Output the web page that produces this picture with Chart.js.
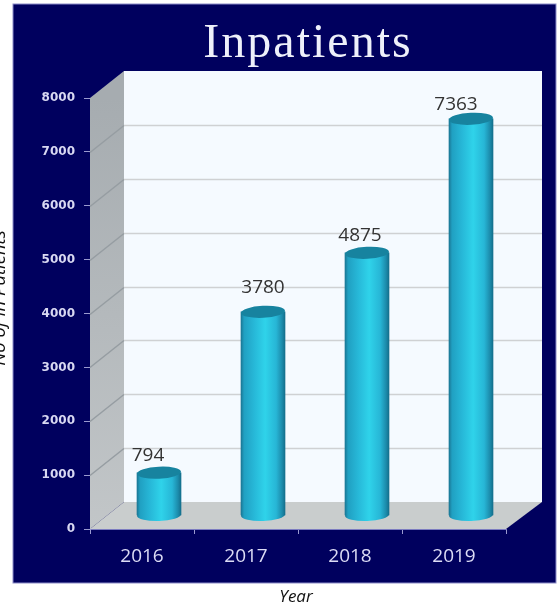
<!DOCTYPE html>
<html>
<head>
<meta charset="utf-8">
<title>Inpatients</title>
<script src="https://cdn.jsdelivr.net/npm/chart.js@4"></script>
<style>
    html, body { margin: 0; padding: 0; background: #fff; }
    canvas { display: block; }
</style>
</head>
<body>
<canvas id="inpatientsChart" width="558" height="606"></canvas>
<script>
// Chart data
const years = ['2016', '2017', '2018', '2019'];
const inpatients = [794, 3780, 4875, 7363];
const yTicks = [0, 1000, 2000, 3000, 4000, 5000, 6000, 7000, 8000];

// How the fake 3D box is skewed
const depthX = 34;
const depthY = 27;
const barWidth = 44;
// value labels don't sit centred over the bars in the original
const labelShift = [-11, 0, -7, -15];
const labelRise = [17, 24, 17, 14];

const barGradient = (chart, i) => {
    const x = chart.scales.x.getPixelForValue(i);
    // the options get resolved once before the scales have any size
    if (!Number.isFinite(x)) return '#27bcdc';
    const g = chart.ctx.createLinearGradient(x - barWidth / 2, 0, x + barWidth / 2, 0);
    g.addColorStop(0, '#1a7795');
    g.addColorStop(0.07, '#20a0c2');
    g.addColorStop(0.3, '#27b8d8');
    g.addColorStop(0.55, '#2fd3ea');
    g.addColorStop(0.8, '#27b6d6');
    g.addColorStop(0.93, '#1c8cac');
    g.addColorStop(1, '#146f8c');
    return g;
};

const box3d = {
    id: 'box3d',
    beforeDraw(chart) {
        const { ctx } = chart;
        ctx.save();
        ctx.fillStyle = '#fff';
        ctx.fillRect(0, 0, 558, 606);
        ctx.fillStyle = '#00005e';
        ctx.strokeStyle = '#8c8cc8';
        ctx.lineWidth = 1;
        ctx.fillRect(13, 4, 543, 579);
        ctx.strokeRect(13, 4, 543, 579);

        ctx.fillStyle = '#eef0fa';
        ctx.font = '48px "Liberation Serif"';
        ctx.letterSpacing = '2px';
        ctx.textAlign = 'center';
        ctx.textBaseline = 'alphabetic';
        ctx.fillText('Inpatients', 308, 57);
        ctx.letterSpacing = '0px';

        ctx.textBaseline = 'middle';
        ctx.fillStyle = '#111';
        ctx.font = 'italic 17px "Open Sans"';
        ctx.fillText('Year', 296, 597);
        ctx.font = 'italic 18.5px "Open Sans"';
        ctx.translate(0, 298);
        ctx.rotate(-Math.PI / 2);
        ctx.fillText('No of In Patients', 0, 0);
        ctx.restore();
    },
    beforeDatasetsDraw(chart) {
        const { ctx, chartArea: a, scales: { y } } = chart;
        ctx.save();
        // back wall
        ctx.fillStyle = '#f5faff';
        ctx.fillRect(a.left + depthX, a.top - depthY, a.width + 2, a.height);
        // side wall
        const side = ctx.createLinearGradient(0, a.top, 0, a.bottom);
        side.addColorStop(0, '#a6acb0');
        side.addColorStop(1, '#c2c6c8');
        ctx.fillStyle = side;
        ctx.beginPath();
        ctx.moveTo(a.left, a.top);
        ctx.lineTo(a.left + depthX, a.top - depthY);
        ctx.lineTo(a.left + depthX, a.bottom - depthY);
        ctx.lineTo(a.left, a.bottom);
        ctx.closePath();
        ctx.fill();
        // floor
        ctx.fillStyle = '#c9cdcd';
        ctx.beginPath();
        ctx.moveTo(a.left, a.bottom);
        ctx.lineTo(a.left + depthX, a.bottom - depthY);
        ctx.lineTo(a.right + depthX + 2, a.bottom - depthY);
        ctx.lineTo(a.right, a.bottom);
        ctx.closePath();
        ctx.fill();
        // grid lines, along the side wall and across the back
        ctx.lineWidth = 1.5;
        yTicks.slice(1, -1).forEach(v => {
            const py = Math.round(y.getPixelForValue(v)) + 0.5;
            ctx.strokeStyle = '#969da2';
            ctx.beginPath();
            ctx.moveTo(a.left, py);
            ctx.lineTo(a.left + depthX, py - depthY);
            ctx.stroke();
            ctx.strokeStyle = '#cfd1d3';
            ctx.beginPath();
            ctx.moveTo(a.left + depthX, py - depthY);
            ctx.lineTo(a.right + depthX + 2, py - depthY);
            ctx.stroke();
        });
        ctx.restore();
    },
    beforeDatasetDraw(chart, args) {
        const { ctx } = chart;
        ctx.save();
        ctx.translate(depthX / 2, -depthY / 2);
        // round bottoms
        args.meta.data.forEach((bar, i) => {
            ctx.fillStyle = barGradient(chart, i);
            ctx.beginPath();
            ctx.ellipse(bar.x, bar.base, barWidth / 2, 6, -0.03, 0, Math.PI * 2);
            ctx.fill();
        });
    },
    afterDatasetDraw(chart, args) {
        const { ctx } = chart;
        // round tops
        args.meta.data.forEach(bar => {
            ctx.fillStyle = '#17839f';
            ctx.beginPath();
            ctx.ellipse(bar.x, bar.y, barWidth / 2, 6, -0.05, 0, Math.PI * 2);
            ctx.fill();
        });
        ctx.fillStyle = '#333';
        ctx.font = '19px "Open Sans"';
        ctx.textAlign = 'center';
        ctx.textBaseline = 'middle';
        args.meta.data.forEach((bar, i) => {
            ctx.fillText(String(inpatients[i]), bar.x + labelShift[i], bar.y - labelRise[i]);
        });
        ctx.restore();
    }
};

const inpatientsChart = new Chart(document.getElementById('inpatientsChart'), {
    type: 'bar',
    data: {
        labels: years,
        datasets: [{
            label: 'Inpatients',
            data: inpatients,
            barThickness: barWidth,
            backgroundColor: c => barGradient(c.chart, c.dataIndex),
            clip: false
        }]
    },
    plugins: [box3d],
    options: {
        responsive: false,
        animation: false,
        layout: { padding: { left: 0, right: 52, top: 98, bottom: 0 } },
        plugins: {
            legend: { display: false },
            tooltip: { enabled: false }
        },
        scales: {
            x: {
                afterFit: s => { s.height = 77; },
                border: { color: '#7c7cc0' },
                grid: { drawOnChartArea: false, color: '#9a9ad0', tickLength: 5 },
                ticks: { color: '#dcdcf5', padding: 11, font: { family: 'Open Sans', size: 19 } }
            },
            y: {
                min: 0,
                max: 8000,
                afterFit: s => { s.width = 90; },
                afterBuildTicks: s => { s.ticks = yTicks.map(value => ({ value })); },
                border: { color: '#9a9ad0' },
                grid: { drawOnChartArea: false, color: '#9a9ad0', tickLength: 6 },
                ticks: {
                    color: '#d8d8f2',
                    padding: 9,
                    font: { family: 'DejaVu Sans', size: 12, weight: 'bold' },
                    callback: v => String(v)
                }
            }
        }
    }
});
</script>
</body>
</html>
